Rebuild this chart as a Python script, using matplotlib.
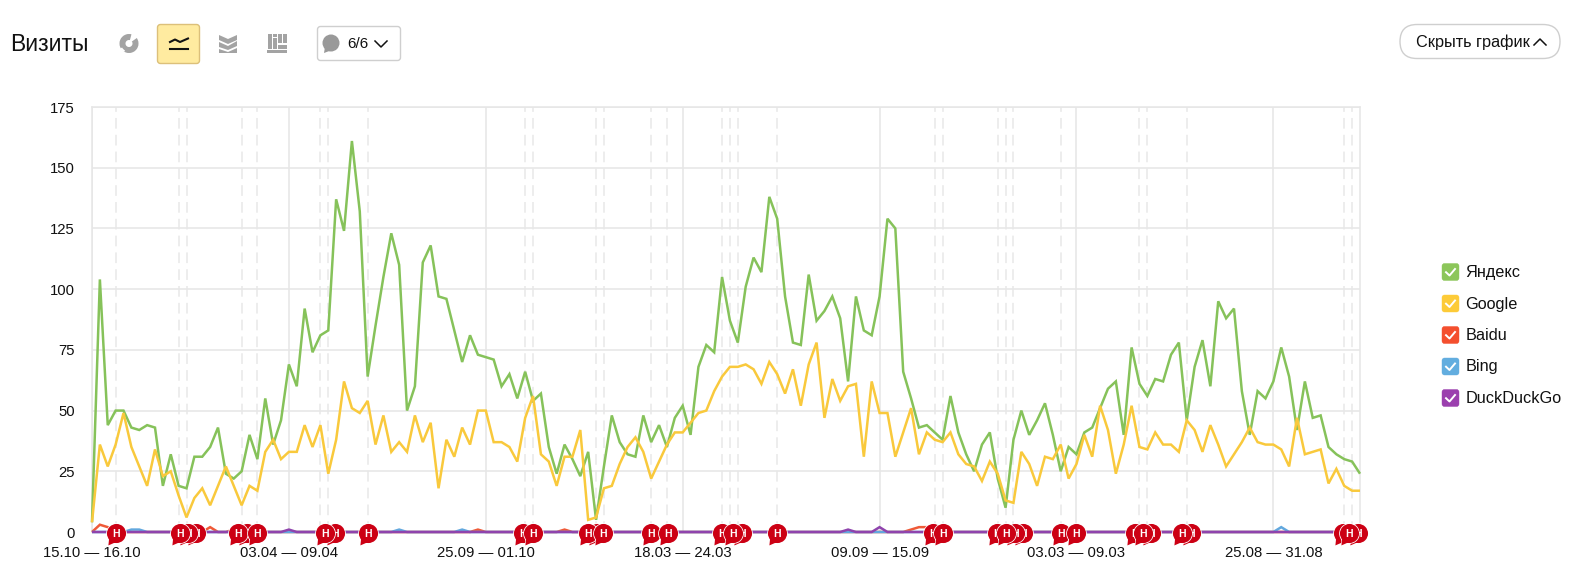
import matplotlib

matplotlib.use("Agg")
import matplotlib.pyplot as plt
import numpy as np

from matplotlib.patches import Circle, FancyBboxPatch, Polygon, Rectangle, Wedge
from matplotlib.path import Path

plt.rcParams["font.family"] = ["Liberation Sans", "DejaVu Sans"]

W, H = 1571, 570

yandex = [
    4, 104, 44, 50, 50, 43, 42, 44, 43, 19,
    32, 19, 18, 31, 31, 35, 43, 24, 22, 25,
    40, 30, 55, 36, 46, 69, 60, 92, 74, 81,
    83, 137, 124, 161, 132, 64, 85, 105, 123, 110,
    50, 60, 111, 118, 97, 96, 83, 70, 81, 73,
    72, 71, 60, 65, 55, 66, 54, 57, 35, 24,
    36, 30, 23, 33, 5, 27, 48, 37, 32, 31,
    48, 37, 44, 35, 47, 52, 40, 68, 77, 74,
    105, 87, 78, 101, 113, 107, 138, 129, 97, 78,
    77, 106, 87, 91, 97, 88, 62, 97, 83, 81,
    97, 129, 125, 66, 55, 43, 44, 41, 38, 56,
    41, 32, 25, 36, 41, 22, 10, 38, 50, 40,
    46, 53, 40, 25, 35, 32, 41, 43, 51, 59,
    62, 40, 76, 61, 56, 63, 62, 73, 78, 46,
    68, 79, 60, 95, 88, 92, 58, 40, 58, 55,
    62, 76, 64, 42, 62, 47, 48, 35, 32, 30,
    29, 24,
]
google = [
    4, 36, 27, 36, 49, 35, 27, 19, 34, 23,
    25, 15, 6, 14, 18, 11, 19, 27, 19, 11,
    19, 17, 33, 38, 30, 33, 33, 44, 35, 44,
    24, 38, 62, 51, 49, 54, 36, 48, 33, 37,
    33, 48, 37, 45, 18, 38, 31, 43, 36, 50,
    50, 37, 37, 35, 29, 47, 56, 32, 29, 19,
    31, 31, 42, 5, 6, 18, 19, 28, 35, 39,
    33, 22, 29, 36, 41, 41, 45, 49, 50, 58,
    64, 68, 68, 69, 67, 61, 70, 65, 57, 67,
    52, 69, 78, 47, 63, 54, 60, 61, 31, 62,
    49, 49, 31, 41, 51, 32, 41, 38, 37, 41,
    32, 28, 27, 21, 29, 24, 13, 12, 33, 28,
    19, 31, 30, 36, 22, 28, 40, 31, 52, 42,
    24, 36, 52, 35, 34, 41, 36, 36, 33, 46,
    42, 33, 44, 36, 27, 32, 37, 43, 37, 36,
    36, 34, 27, 47, 32, 33, 34, 20, 26, 19,
    17, 17,
]
baidu = [
    0, 3, 2, 0, 0, 0, 0, 0, 0, 0,
    0, 0, 0, 0, 0, 2, 0, 0, 1, 0,
    0, 0, 0, 0, 0, 0, 0, 0, 0, 0,
    0, 0, 0, 0, 0, 0, 0, 0, 0, 0,
    0, 0, 0, 0, 0, 0, 0, 0, 0, 1,
    0, 0, 0, 0, 0, 0, 0, 0, 0, 0,
    1, 0, 0, 0, 0, 0, 0, 0, 0, 0,
    0, 0, 0, 0, 0, 0, 0, 0, 0, 0,
    0, 0, 0, 0, 0, 0, 0, 0, 0, 0,
    0, 0, 0, 0, 0, 0, 0, 0, 0, 0,
    0, 0, 0, 0, 1, 2, 2, 2, 0, 0,
    0, 0, 0, 0, 0, 0, 0, 0, 0, 0,
    0, 0, 0, 0, 0, 0, 0, 0, 0, 0,
    0, 0, 0, 0, 0, 0, 0, 0, 0, 0,
    0, 0, 0, 0, 0, 0, 0, 0, 0, 0,
    0, 0, 0, 0, 0, 0, 0, 0, 0, 0,
    0, 0,
]
bing = [
    0, 0, 0, 0, 0, 1, 1, 0, 0, 0,
    0, 0, 0, 0, 0, 0, 0, 0, 0, 0,
    0, 0, 0, 0, 0, 0, 0, 0, 0, 0,
    0, 0, 0, 0, 0, 0, 0, 0, 0, 1,
    0, 0, 0, 0, 0, 0, 0, 1, 0, 0,
    0, 0, 0, 0, 0, 0, 0, 0, 0, 0,
    0, 0, 0, 0, 0, 0, 0, 0, 0, 0,
    0, 0, 0, 0, 0, 0, 0, 0, 0, 0,
    0, 0, 0, 0, 0, 0, 0, 0, 0, 0,
    0, 0, 0, 0, 0, 0, 0, 0, 0, 0,
    0, 0, 0, 0, 0, 0, 0, 0, 0, 0,
    0, 0, 0, 0, 0, 0, 0, 0, 0, 0,
    0, 0, 0, 0, 0, 0, 0, 0, 0, 0,
    0, 0, 0, 0, 0, 0, 0, 0, 0, 0,
    0, 0, 0, 0, 0, 0, 0, 0, 0, 0,
    0, 2, 0, 0, 0, 0, 0, 0, 0, 0,
    0, 0,
]
duckduckgo = [
    0, 0, 0, 0, 0, 0, 0, 0, 0, 0,
    0, 0, 0, 0, 0, 0, 0, 0, 0, 0,
    0, 0, 0, 0, 0, 1, 0, 0, 0, 0,
    0, 0, 0, 0, 0, 0, 0, 0, 0, 0,
    0, 0, 0, 0, 0, 0, 0, 0, 0, 0,
    0, 0, 0, 0, 0, 0, 0, 0, 0, 0,
    0, 0, 0, 0, 0, 0, 0, 0, 0, 0,
    0, 0, 0, 0, 0, 0, 0, 0, 0, 0,
    0, 0, 0, 0, 0, 0, 0, 0, 0, 0,
    0, 0, 0, 0, 0, 0, 1, 0, 0, 0,
    2, 0, 0, 0, 0, 0, 0, 0, 0, 0,
    0, 0, 0, 0, 0, 0, 0, 0, 0, 0,
    0, 0, 0, 0, 0, 0, 0, 0, 0, 0,
    0, 0, 0, 0, 0, 0, 0, 0, 0, 0,
    0, 0, 0, 0, 0, 0, 0, 0, 0, 0,
    0, 0, 0, 0, 0, 0, 0, 0, 0, 0,
    0, 0,
]

series_names = ["Яндекс", "Google", "Baidu", "Bing", "DuckDuckGo"]
line_colors = ["#86c25a", "#f9c93c", "#ef5a38", "#62a8de", "#8f44ad"]
box_colors = ["#8cc65a", "#fdcb38", "#f44f2e", "#62addf", "#9b3fae"]

y_ticks = [0, 25, 50, 75, 100, 125, 150, 175]
week_ticks = [0, 25, 50, 75, 100, 125, 150]
week_labels = [
    "15.10 — 16.10", "03.04 — 09.04", "25.09 — 01.10", "18.03 — 24.03",
    "09.09 — 15.09", "03.03 — 09.03", "25.08 — 31.08",
]
note_days = [
    3, 11, 12, 19, 21, 29, 30, 35, 55, 56, 64, 65, 71, 73, 80, 81, 82, 87,
    107, 108, 115, 116, 117, 123, 133, 134, 139, 159, 160,
]
# порядок важен: кто позже, тот сверху
bubble_days = [
    3.05, 13.2, 12.2, 11.2, 19.7, 18.5, 20.95, 30.9, 29.6, 35, 54.7, 56,
    64.1, 63, 64.9, 71, 73.1, 82.5, 80, 81.4, 87, 106.8, 108, 118.2, 117.2,
    114.9, 116, 123, 125, 134.5, 132.4, 133.5, 139.5, 138.4, 160.7, 158.9,
    159.6,
]

fig = plt.figure(figsize=(W / 100, H / 100), dpi=100, facecolor="white")

# интерфейс вокруг графика, координаты в пикселях
ui = fig.add_axes([0, 0, 1, 1], zorder=0)
ui.set_xlim(0, W)
ui.set_ylim(H, 0)
ui.axis("off")


def round_box(x, y, w, h, r, fc, ec, lw=1.0):
    ui.add_patch(FancyBboxPatch((x + r, y + r), w - 2 * r, h - 2 * r,
                                boxstyle=f"round,pad={r},rounding_size={r}",
                                fc=fc, ec=ec, lw=lw))


text_color = "#111111"
ui.text(10, 44.5, "Визиты", fontsize=16.5, va="center", color=text_color)

# пирог
gray = "#a3a3a3"
ui.add_patch(Wedge((129, 43.5), 9.5, 0, 360, width=6, fc=gray, ec="none"))
ui.add_patch(Wedge((129, 43.5), 10.5, 285, 325, fc="white", ec="none"))
ui.add_patch(Wedge((129, 43.5), 10, 120, 150, width=2, fc="white", ec="none"))

# активная кнопка с линией
round_box(157.5, 24.5, 42, 39, 3, "#ffeba0", "#dcc07a")
ui.plot([170, 175, 180, 188], [42, 39.5, 42, 38.5], color=text_color, lw=1.5)
ui.plot([170, 188], [49, 49], color=text_color, lw=1.5)

# области
ui.add_patch(Polygon([(219, 35), (228, 39), (237, 35), (237, 40), (228, 44), (219, 40)], fc=gray, ec="none"))
ui.add_patch(Polygon([(219, 42), (228, 46), (237, 41), (237, 46), (228, 50), (219, 47)], fc=gray, ec="none"))
ui.add_patch(Polygon([(219, 49), (228, 52), (237, 48), (237, 53), (219, 53)], fc=gray, ec="none"))

# столбцы
for bx, by, bw, bh in [(268, 34, 4, 15), (273, 38, 4, 11), (278, 34, 4, 9), (283, 34, 4, 9),
                       (278, 45, 9, 4), (273, 34, 4, 3)]:
    ui.add_patch(Rectangle((bx, by), bw, bh, fc=gray, ec="none"))
ui.add_patch(Rectangle((267, 50), 20, 2.5, fc=gray, ec="none"))

# кнопка комментариев
round_box(317.5, 26.5, 83, 34, 3, "white", "#cfcfcf")
ui.add_patch(Circle((331, 43), 8.5, fc="#999999", ec="none"))
ui.add_patch(Polygon([(325, 47), (324, 53), (332, 50)], fc="#999999", ec="none"))
ui.text(347, 44, "6/6", fontsize=11, va="center", color=text_color)
ui.plot([375, 381, 387], [41, 47, 41], color=text_color, lw=1.1)

# скрыть график
round_box(1400, 24.5, 160, 34, 17, "white", "#cfcfcf")
ui.text(1416, 42.5, "Скрыть график", fontsize=11.7, va="center", color=text_color)
ui.plot([1534, 1540, 1546], [45, 39, 45], color=text_color, lw=1.1)

# легенда
for i, name in enumerate(series_names):
    ly = [272, 303.5, 335, 366.5, 398][i]
    round_box(1442, ly - 8.5, 17, 17, 2.5, box_colors[i], box_colors[i], lw=0.3)
    ui.plot([1446, 1449.5, 1455], [ly + 0.2, ly + 3.5, ly - 3], color="white", lw=1.4)
    ui.text(1465.5, ly + 0.5, name, fontsize=11.7, va="center", color=text_color)

# сам график
left, right, top, bottom = 92, 1360, 107, 532
ax = fig.add_axes([left / W, 1 - bottom / H, (right - left) / W, (bottom - top) / H], zorder=2)
ax.patch.set_alpha(0)
ax.set_xlim(0, 161)
ax.set_ylim(0, 175)

grid_color = "#e6e6e6"
for spine in ax.spines.values():
    spine.set_color(grid_color)
    spine.set_linewidth(1.1)

ax.set_yticks(y_ticks)
ax.set_xticks(week_ticks)
ax.set_xticklabels(week_labels)
ax.tick_params(axis="y", length=0, pad=12.5, labelsize=10.7, labelcolor=text_color)
ax.tick_params(axis="x", length=0, pad=10, labelsize=10.7, labelcolor=text_color)
ax.grid(True, color=grid_color, lw=1.1, zorder=1)
ax.set_axisbelow(True)

for day in note_days:
    ax.axvline(day, color="#e8e8e8", lw=1.1, dashes=(7, 4), zorder=1)

days = np.arange(len(yandex))
all_series = [yandex, google, baidu, bing, duckduckgo]
# поисковики с нулями рисуем первыми, Яндекс и Google поверх, фиолетовая линия по нулю сверху
for values, color, z in zip(all_series, line_colors, [4, 5, 3, 3.2, 3.4]):
    ax.plot(days, values, color=color, lw=1.8, zorder=z, clip_on=False,
            solid_joinstyle="miter", solid_capstyle="butt")

# красные пузырьки заметок
tail = Path([(-0.85, -1.25), (-0.05, -0.9), (-0.75, -0.3), (-0.85, -1.25)], closed=True)
bubble = Path.make_compound_path(Path.unit_circle(), tail)
for n, day in enumerate(bubble_days):
    z = 10 + n * 0.01
    ax.scatter([day], [-0.6], marker=bubble, s=345, color="white", lw=0, zorder=z, clip_on=False)
    ax.scatter([day], [-0.6], marker=bubble, s=295, color="#cc0014", lw=0, zorder=z, clip_on=False)
    ax.text(day, -0.7, "Н", color="white", fontsize=7.5, fontweight="bold", ha="center",
            va="center", zorder=z, clip_on=False)

fig.savefig("out.png", dpi=100)
plt.close(fig)
